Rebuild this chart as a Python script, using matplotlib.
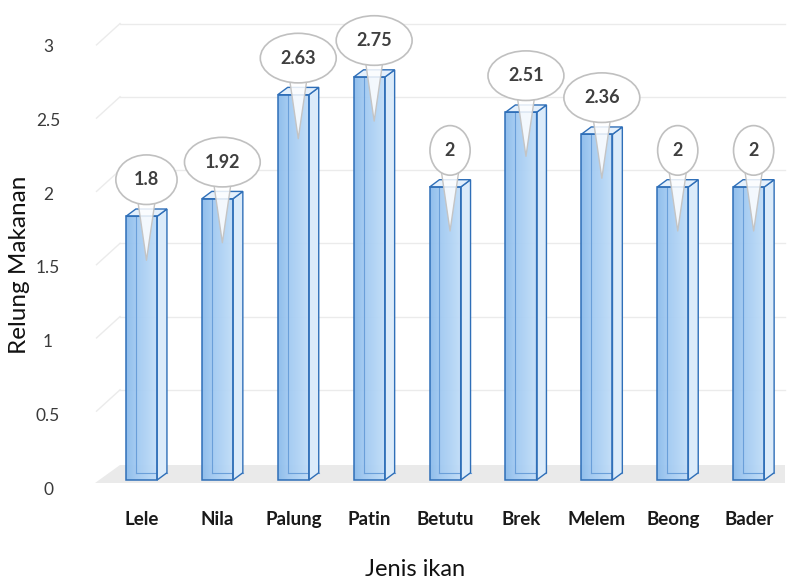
import numpy as np
import matplotlib
matplotlib.use("Agg")
import matplotlib.pyplot as plt
from matplotlib.patches import Polygon, Rectangle
from matplotlib.colors import LinearSegmentedColormap
from matplotlib.transforms import blended_transform_factory

# Food niche breadth per fish species
species = ["Lele", "Nila", "Palung", "Patin", "Betutu", "Brek", "Melem", "Beong", "Bader"]
niche_width = [1.8, 1.92, 2.63, 2.75, 2, 2.51, 2.36, 2, 2]
value_labels = ["1.8", "1.92", "2.63", "2.75", "2", "2.51", "2.36", "2", "2"]
y_ticks = [0, 0.5, 1, 1.5, 2, 2.5, 3]
y_tick_labels = ["0", "0.5", "1", "1.5", "2", "2.5", "3"]

plt.rcParams["font.family"] = ["Lato", "DejaVu Sans"]

fig = plt.figure(figsize=(7.95, 5.84), dpi=100)
ax = fig.add_axes([0.1195, 0.1529, 0.8742, 0.8279])
XMIN, XMAX = -0.613, 8.544
YMIN, YMAX = -0.1, 3.2

W = 0.41            # width of a column's front face
DX, DY = 0.13, 0.05  # depth offset of each prism
WALL = 0.116        # rise of the back wall above the front plane
WALL_X0, WALL_X1 = -0.283, 8.48

edge = "#2f6fb8"
inner_edge = "#6a9fd9"
front_cmap = LinearSegmentedColormap.from_list(
    "front", ["#8bbbec", "#a2caf2", "#b0d3f5", "#c3def8"])

# floor
ax.add_patch(Polygon([(XMIN, -0.02), (WALL_X1, -0.02), (WALL_X1, 0.1), (WALL_X0, 0.1)],
                     closed=True, fc="#eaeaea", ec="none", zorder=0.5))

# back-wall gridlines with the short receding stub on the side wall
for t in y_ticks[1:]:
    ax.plot([WALL_X0, WALL_X1], [t + WALL, t + WALL], color="#ebebeb", lw=1, zorder=0.4)
    ax.plot([XMIN + 0.02, WALL_X0], [t - 0.03, t + WALL], color="#ebebeb", lw=1, zorder=0.4)

# y tick labels sit on the front plane of the floor
lab_tr = blended_transform_factory(ax.transAxes, ax.transData)
for t, s in zip(y_ticks, y_tick_labels):
    ax.text(-0.0676, -0.068 + t * 1.008, s, transform=lab_tr, ha="center", va="center",
            fontsize=12.5, color="#3a3a3a")

grad = np.linspace(0, 1, 64).reshape(1, -1)
for i, v in enumerate(niche_width):
    x0, x1 = i - W / 2, i + W / 2
    # back edges seen through the translucent column
    ax.plot([x0 + DX, x0 + DX], [DY, v + DY], color=inner_edge, lw=0.8, zorder=2.4)
    ax.plot([x0 + DX, x1 + DX], [DY, DY], color=inner_edge, lw=0.8, zorder=2.4)
    front = Rectangle((x0, 0), W, v, fc="none", ec=edge, lw=1.1, zorder=3)
    ax.add_patch(front)
    im = ax.imshow(grad, extent=[x0, x1, 0, v], aspect="auto", cmap=front_cmap,
                   alpha=0.95, zorder=2.3, interpolation="bilinear")
    im.set_clip_path(front)
    ax.add_patch(Polygon([(x1, 0), (x1 + DX, DY), (x1 + DX, v + DY), (x1, v)],
                         closed=True, fc="#dbebfa", ec=edge, lw=1.0, zorder=2.6))
    ax.add_patch(Polygon([(x0, v), (x1, v), (x1 + DX, v + DY), (x0 + DX, v + DY)],
                         closed=True, fc="#e4f0fc", ec=edge, lw=1.0, zorder=2.6))

# callout bubbles with the value of each column
for i, (v, s) in enumerate(zip(niche_width, value_labels)):
    ax.annotate(s, xy=(i + DX / 2, v - 0.3), xytext=(i + DX / 2, v + 0.25),
                xycoords="data", textcoords="data", ha="center", va="center",
                fontsize=13, fontweight="bold", color="#3f3f3f", zorder=6,
                bbox=dict(boxstyle="ellipse,pad=0.5", fc="white", ec="#c0c0c0", lw=1.2),
                arrowprops=dict(arrowstyle="wedge,tail_width=1.3,shrink_factor=0.5",
                                fc=(1, 1, 1, 0.85), ec="#c4c4c4", lw=1,
                                patchA=None, shrinkA=0, shrinkB=0))

ax.set_xlim(XMIN, XMAX)
ax.set_ylim(YMIN, YMAX)
ax.set_xticks(range(len(species)))
ax.set_xticklabels(species, fontsize=13.5, fontweight="bold", color="#1a1a1a")
ax.set_yticks([])
ax.tick_params(axis="x", length=0, pad=12)
for sp in ax.spines.values():
    sp.set_visible(False)

fig.text(0.522, 0.024, "Jenis ikan", ha="center", va="center", fontsize=17, color="#111111")
fig.text(0.025, 0.546, "Relung Makanan", ha="center", va="center", rotation=90,
         fontsize=17.5, color="#111111")

fig.savefig("out.png", dpi=100)
